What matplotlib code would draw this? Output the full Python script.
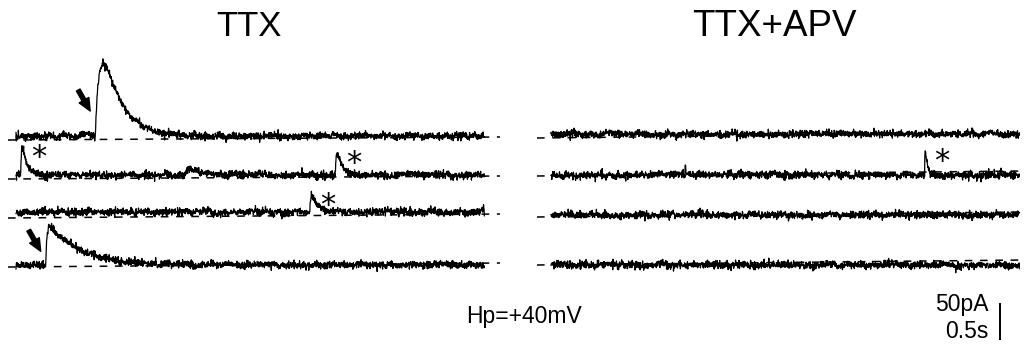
import numpy as np
import matplotlib
matplotlib.use('Agg')
import matplotlib.pyplot as plt

plt.rcParams['font.family'] = ['Liberation Sans', 'DejaVu Sans']

# Recording parameters
DT = 0.004            # s per sample
TRACE_LEN = 7.1       # s per sweep
PX_PER_S = 66.0       # horizontal scale of the drawing
PX_PER_PA = 0.70      # vertical scale (50 pA bar = 35 px)

panel_titles = ['TTX', 'TTX+APV']
holding_label = 'Hp=+40mV'
scale_labels = ['50pA', '0.5s']
scale_pa = 50

# spontaneous events per sweep: (onset s, amplitude pA, tau rise s, tau decay s)
ttx_events = [
    [(1.20, 102, 0.08, 0.27)],
    [(0.07, 40, 0.015, 0.07), (2.55, 8, 0.08, 0.2), (4.84, 31, 0.015, 0.07)],
    [(4.45, 24, 0.015, 0.09), (7.03, 6, 0.02, 0.05)],
    [(0.45, 56, 0.02, 0.45)],
]
apv_events = [
    [],
    [(2.03, 17, 0.003, 0.008), (5.66, 33, 0.006, 0.035)],
    [],
    [],
]
# which events are marked: arrow (NMDA-like) or asterisk
ttx_arrows = [(0, 0), (3, 0)]
ttx_stars = [(1, 0), (1, 2), (2, 0)]
apv_stars = [(1, 1)]

# layout (image pixels)
panel_x0 = [16, 551]
trace_y = [[136, 175, 212, 265], [134, 175, 215, 265]]
dash_x = [(8, 500), (537, 1025)]
dash_y = [[(140, 137), (179, 176), (218, 214), (267, 263)],
          [(138, 133), (176, 171), (217, 212), (265, 260)]]


def to_data(px, py):
    return px / PX_PER_S, -py / PX_PER_PA


def t_peak(tr, td):
    return tr * td / (td - tr) * np.log(td / tr)


def epsc(t, onset, amp, tr, td):
    s = np.clip(t - onset, 0, None)
    tp = t_peak(tr, td)
    norm = (1 - np.exp(-tp / tr)) * np.exp(-tp / td)
    return np.where(t >= onset, amp * (1 - np.exp(-s / tr)) * np.exp(-s / td) / norm, 0)


t = np.arange(0, TRACE_LEN, DT)
rng = np.random.default_rng(3)  # recording noise texture only

fig = plt.figure(figsize=(10.25, 3.45), dpi=100)
ax = fig.add_axes([0, 0, 1, 1])
ax.set_xlim(0, 1025 / PX_PER_S)
ax.set_ylim(-345 / PX_PER_PA, 0)
ax.axis('off')

for p, events in enumerate([ttx_events, apv_events]):
    x0 = panel_x0[p] / PX_PER_S
    for i, ev in enumerate(events):
        base = -trace_y[p][i] / PX_PER_PA
        white = rng.normal(0, 2.7, t.size)
        slow = np.convolve(rng.normal(0, 1.0, t.size), np.ones(25) / 25 ** 0.5, mode='same') * 0.8
        y = base + white + slow
        for e in ev:
            y = y + epsc(t, *e)
        ax.plot(x0 + t, y, color='k', lw=0.9, zorder=3)
        (ya, yb) = dash_y[p][i]
        xa, ya_d = to_data(dash_x[p][0], ya)
        xb, yb_d = to_data(dash_x[p][1], yb)
        ax.plot([xa, xb], [ya_d, yb_d], color='k', lw=1.1, dashes=(5, 5), zorder=2)

# arrows on the slow (NMDA) events
for (i, k) in ttx_arrows:
    onset, amp, tr, td = ttx_events[i][k]
    hx = panel_x0[0] / PX_PER_S + onset - 5 / PX_PER_S
    hy = -trace_y[0][i] / PX_PER_PA + amp * 0.35
    ax.annotate('', xy=(hx, hy), xytext=(hx - 12 / PX_PER_S, hy + 21 / PX_PER_PA),
                arrowprops=dict(arrowstyle='simple,head_length=0.9,head_width=0.8,tail_width=0.3',
                                fc='k', ec='k', shrinkA=0, shrinkB=0))

# asterisks on the fast events
for p, stars, events in [(0, ttx_stars, ttx_events), (1, apv_stars, apv_events)]:
    for (i, k) in stars:
        onset, amp, tr, td = events[i][k]
        xp = panel_x0[p] / PX_PER_S + onset + t_peak(tr, td)
        yp = -trace_y[p][i] / PX_PER_PA + amp
        ax.text(xp + 16 / PX_PER_S, yp - 10 / PX_PER_PA, '*', fontsize=22,
                ha='center', va='center', family='DejaVu Sans')

# titles and labels
fig.text(249 / 1025, 1 - 26 / 345, panel_titles[0], fontsize=25, ha='center', va='center')
fig.text(774 / 1025, 1 - 26 / 345, panel_titles[1], fontsize=26.5, ha='center', va='center')
fig.text(524 / 1025, 1 - 316 / 345, holding_label, fontsize=16.5, ha='center', va='center')
fig.text(989 / 1025, 1 - 305 / 345, scale_labels[0], fontsize=16.5, ha='right', va='center')
fig.text(989 / 1025, 1 - 332 / 345, scale_labels[1], fontsize=16.5, ha='right', va='center')

# vertical scale bar
bx, by = to_data(1000, 339)
ax.plot([bx, bx], [by, by + scale_pa], color='k', lw=1.4)

fig.savefig('out.png', dpi=100)
